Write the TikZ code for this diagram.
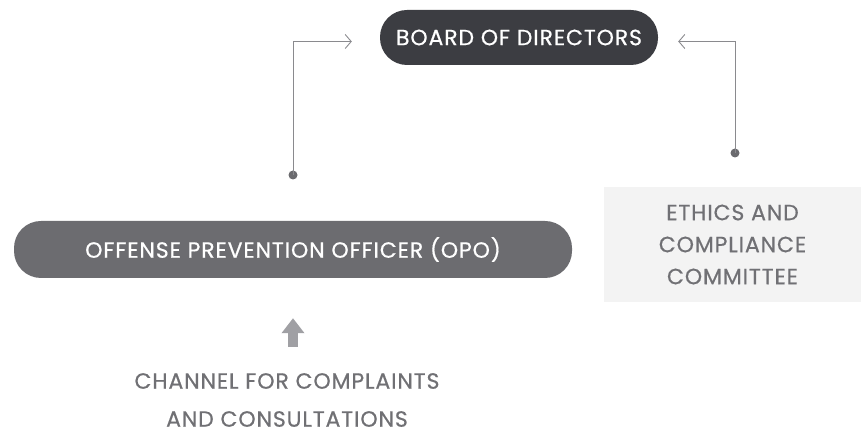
\documentclass[tikz,border=0pt]{standalone}
\usepackage{fontspec}
\setmainfont{Poppins}[LetterSpace=4,FakeBold=0.6]
\usepackage{xcolor}
\usetikzlibrary{arrows.meta,positioning}
\definecolor{boarddark}{HTML}{3C3D42}
\definecolor{opogray}{HTML}{6C6C70}
\definecolor{linegray}{HTML}{8A8A8E}
\definecolor{dotgray}{HTML}{6A6A6E}
\definecolor{boxbg}{HTML}{F3F3F3}
\definecolor{textgray}{HTML}{707074}
\definecolor{arrowgray}{HTML}{A0A0A4}

\begin{document}
\begin{tikzpicture}[
      x=1pt,y=1pt,
      pill/.style={rounded corners=27pt,text=white,
                   font=\fontsize{22}{24}\selectfont,align=center},
      panel/.style={fill=boxbg,text=textgray,minimum width=257pt,minimum height=115pt,
                    font=\fontsize{22}{32}\selectfont,align=center},
      label/.style={text=textgray,font=\fontsize{22}{38}\selectfont,align=center},
      conn/.style={linegray,line width=0.9pt,-{Straight Barb[length=6pt,width=14pt]}},
      pin/.style={circle,fill=dotgray,inner sep=0pt,minimum size=9pt},
      bigarr/.style={arrowgray,line width=10pt,-{Triangle[length=15pt,width=22pt]}}
    ]
      \useasboundingbox (0,0) rectangle (861,433);
      \node[pill,fill=boarddark,minimum width=278pt,minimum height=55pt] (board) at (519,395.5) {BOARD OF DIRECTORS};
      \node[pill,fill=opogray,minimum width=558pt,minimum height=57pt] (opo) at (293,183.5) {OFFENSE PREVENTION OFFICER (OPO)};
      \node[panel] (ethics) at (732.5,188.5) {ETHICS AND\\COMPLIANCE\\COMMITTEE};
      \node[label] (channel) at (287,33) {CHANNEL FOR COMPLAINTS\\AND CONSULTATIONS};
      \node[pin] (opopin) at (293,258) {};
      \node[pin] (ethicspin) at (735,280) {};
      \coordinate (chtop) at (293,86);
      \draw[conn,shorten >=28pt] (opopin.center) |- ([yshift=-4pt]board.west);
      \draw[conn,shorten >=20pt] (ethicspin.center) |- ([yshift=-4pt]board.east);
      \draw[bigarr,shorten >=40pt] (chtop) -- (chtop |- opo.south);
    \end{tikzpicture}
\end{document}
